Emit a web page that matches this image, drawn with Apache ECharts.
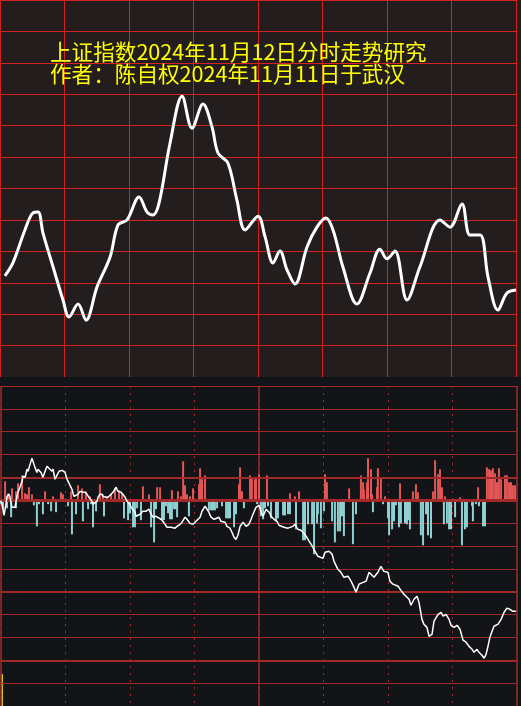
<!DOCTYPE html>
<html>
<head>
<meta charset="utf-8">
<title>上证指数分时走势研究</title>
<script src="https://cdn.jsdelivr.net/npm/echarts@6/dist/echarts.min.js"></script>
<style>
	html, body {
		margin: 0;
		padding: 0;
		background: #131417;
	}
	#myChart {
		width: 521px;
		height: 706px;
	}
</style>
</head>
<body>
<div id="myChart"></div>
<script>
// 标题
const titleLines = ['上证指数2024年11月12日分时走势研究', '作者：陈自权2024年11月11日于武汉'];

// 上图：分时走势（分钟, 格数）
const trendLine = [
	[2.3, 3.22], [6.0, 3.63], [11.6, 4.68], [15.3, 5.22], [17.7, 5.25], [20.0, 4.58], [24.7, 3.50],
	[29.3, 2.45], [32.1, 1.91], [36.3, 2.32], [40.0, 1.81], [45.1, 2.86], [51.2, 3.82], [54.9, 4.84],
	[59.1, 5.00], [64.7, 5.73], [68.4, 5.25], [71.2, 5.16], [74.0, 5.54], [79.1, 7.45], [84.7, 8.94],
	[89.3, 7.92], [94.4, 8.69], [98.6, 7.96], [101.4, 7.13], [106.0, 6.81], [110.2, 5.63], [114.0, 4.68],
	[120.0, 5.12], [123.3, 4.46], [127.0, 3.63], [130.2, 4.01], [133.5, 3.41], [137.2, 2.96], [142.8, 4.14],
	[147.4, 4.77], [151.6, 5.06], [154.9, 4.68], [159.5, 3.50], [166.0, 2.32], [172.1, 3.31], [176.7, 4.07],
	[180.0, 3.76], [183.7, 4.01], [189.3, 2.45], [195.3, 3.50], [204.7, 5.00], [209.3, 4.77], [214.9, 5.51],
	[218.6, 4.52], [223.3, 4.52], [227.0, 3.18], [231.6, 2.13], [235.8, 2.67], [240.0, 2.77]
];

// 下图：实际分时线
const priceLine = [
	[0, -0.03], [0.5, -0.17], [1.4, -0.66], [2.3, -0.17], [2.8, 0.17], [3.7, 0.26], [4.2, 0.13], [5.1, -0.31],
	[6.5, -0.31], [7.4, 0.17], [7.9, 0.35], [8.8, 0.57], [9.8, 0.83], [10.2, 1.05], [11.2, 1.01], [12.1, 1.36],
	[12.6, 1.27], [13.5, 1.57], [14.4, 1.84], [15.3, 1.84], [15.8, 1.44], [16.7, 1.22], [17.2, 1.36], [18.6, 1.22],
	[19.5, 1.01], [20.5, 1.27], [21.4, 1.49], [22.3, 1.40], [23.7, 1.27], [24.2, 1.36], [25.1, 0.92], [26.0, 1.09],
	[27.0, 1.27], [28.4, 1.31], [28.8, 1.36], [29.8, 1.22], [30.7, 0.92], [31.2, 0.83], [32.1, 0.79], [33.0, 0.48],
	[33.5, 0.31], [34.0, 0.17], [34.9, 0.13], [35.8, 0.26], [36.7, 0.39], [38.1, 0.35], [39.1, 0.35], [40.0, 0.26],
	[40.9, 0.13], [42.3, -0.04], [42.8, -0.17], [43.7, -0.09], [44.7, -0.04], [45.1, 0.13], [46.0, 0.26], [47.0, 0.26],
	[47.4, 0.17], [48.8, 0.13], [49.8, 0.13], [50.7, 0.17], [52.1, 0.35], [53.5, 0.57], [54.4, 0.39], [55.8, 0.35],
	[56.7, 0.26], [57.7, 0.13], [58.6, -0.04], [60.0, -0.17], [60.5, -0.31], [62.3, -0.52], [62.8, -0.70], [64.7, -0.61],
	[66.0, -0.48], [67.4, -0.48], [68.8, -0.39], [69.8, -0.61], [70.7, -0.74], [72.1, -0.70], [73.0, -0.74], [74.4, -0.83],
	[75.3, -0.92], [76.3, -1.05], [77.2, -1.18], [79.1, -1.18], [80.9, -1.22], [81.9, -1.14], [83.3, -1.05], [84.2, -0.96],
	[85.6, -0.74], [86.5, -0.83], [87.9, -1.01], [89.3, -1.05], [90.7, -0.92], [92.6, -0.74], [93.5, -0.48], [94.9, -0.26],
	[95.8, -0.31], [96.7, -0.52], [97.7, -0.74], [99.1, -0.83], [100.0, -0.83], [101.4, -0.74], [102.3, -0.92], [104.2, -0.96],
	[105.1, -1.14], [106.5, -1.22], [107.4, -1.40], [108.4, -1.62], [109.3, -1.71], [110.2, -1.53], [111.2, -1.14], [112.6, -0.96],
	[114.0, -1.14], [115.3, -1.05], [116.3, -0.83], [117.2, -0.61], [118.6, -0.31], [120.0, -0.22], [120.9, -0.48], [121.9, -0.70],
	[123.3, -0.39], [124.7, -0.52], [125.6, -0.70], [127.0, -0.83], [128.4, -0.92], [129.3, -1.09], [130.2, -1.14], [131.6, -1.18],
	[133.5, -1.22], [134.4, -1.18], [135.8, -1.14], [136.7, -1.05], [138.1, -1.27], [139.5, -1.31], [140.5, -1.40], [141.9, -1.57],
	[142.8, -1.62], [143.3, -1.79], [144.2, -1.92], [145.1, -2.06], [146.0, -2.23], [147.4, -2.45], [149.8, -2.54], [150.7, -2.27],
	[152.6, -2.23], [154.0, -2.36], [154.9, -2.67], [156.7, -3.02], [158.1, -3.15], [159.5, -3.37], [161.4, -3.32], [162.8, -3.54],
	[164.2, -3.81], [165.1, -4.02], [166.5, -3.67], [168.4, -3.59], [169.8, -3.54], [171.2, -3.15], [172.1, -3.11], [173.5, -3.37],
	[175.3, -3.15], [176.7, -2.89], [178.1, -3.11], [180.0, -3.15], [180.9, -3.54], [182.3, -3.67], [184.7, -3.76], [186.0, -3.94],
	[187.4, -4.11], [189.8, -4.33], [190.7, -4.59], [192.1, -4.33], [193.5, -4.20], [194.4, -4.46], [195.8, -5.21], [196.7, -5.42],
	[198.1, -5.56], [199.1, -5.95], [200.5, -5.86], [201.4, -5.29], [203.3, -4.99], [204.7, -4.90], [205.6, -5.07], [207.0, -4.99],
	[208.4, -5.21], [209.3, -5.47], [210.7, -5.56], [212.1, -5.47], [213.5, -5.64], [214.9, -6.12], [216.3, -6.21], [217.7, -6.39],
	[219.1, -6.52], [220.0, -6.65], [221.4, -6.52], [222.3, -6.65], [223.7, -6.78], [224.7, -6.91], [225.6, -6.74], [226.5, -6.39],
	[227.4, -5.99], [228.4, -5.73], [229.3, -5.51], [231.2, -5.42], [232.6, -5.21], [234.0, -4.90], [235.3, -4.72], [236.7, -4.77],
	[238.1, -4.86], [239.5, -4.86]
];

// 下图：红柱
const redBars = [
	[1.9, 0.83], [3.3, 0.31], [5.1, 0.52], [7.0, 0.39], [7.9, 0.74], [9.8, 1.09], [11.2, 0.31], [12.1, 0.26],
	[13.0, 0.57], [14.4, 0.26], [20.5, 0.39], [24.2, 0.17], [27.9, 0.35], [28.8, 0.26], [32.6, 0.39], [35.8, 0.66],
	[37.7, 0.52], [39.5, 0.39], [41.4, 0.17], [46.0, 0.70], [47.4, 0.26], [49.3, 0.17], [51.2, 0.26], [53.0, 0.52],
	[54.9, 0.44], [56.3, 0.31], [66.0, 0.61], [68.8, 0.26], [72.6, 0.57], [74.0, 0.57], [79.5, 0.44], [82.3, 0.39],
	[83.7, 0.17], [84.7, 1.71], [85.6, 0.66], [86.5, 0.26], [87.9, 0.17], [89.3, 0.52], [92.1, 0.70], [92.6, 1.40],
	[93.5, 0.92], [94.9, 1.09], [110.7, 0.70], [111.2, 1.44], [112.1, 0.39], [115.8, 1.09], [116.7, 1.01], [118.1, 0.92],
	[118.6, 0.96], [120.0, 1.14], [123.7, 1.09], [134.4, 0.31], [136.7, 0.17], [138.6, 0.39], [150.7, 1.14], [151.6, 0.79],
	[161.9, 0.52], [167.4, 1.09], [168.4, 0.79], [168.8, 0.48], [170.2, 0.79], [170.7, 1.84], [172.1, 1.36], [172.6, 0.26],
	[174.9, 0.57], [175.3, 1.40], [176.7, 0.96], [178.6, 0.17], [185.6, 0.74], [191.6, 0.39], [193.0, 0.70], [193.9, 0.35],
	[200.9, 0.39], [201.9, 1.75], [203.3, 1.14], [204.2, 1.36], [205.1, 0.57], [206.5, 0.17], [213.5, 0.13], [221.9, 0.57],
	[226.0, 1.44], [227.0, 1.36], [227.9, 1.31], [228.8, 1.40], [229.8, 1.18], [230.7, 0.79], [231.6, 1.40], [232.6, 0.92],
	[234.4, 1.09], [235.3, 1.09], [236.3, 0.79], [237.2, 0.79], [238.1, 0.66], [239.1, 0.66]
];

// 下图：蓝柱
const cyanBars = [
	[0, -0.17], [0.9, -0.39], [2.8, -0.35], [4.7, -0.74], [7.0, -0.35], [15.3, -0.22], [16.7, -1.14], [17.7, -0.17],
	[19.5, -0.61], [21.9, -0.17], [23.3, -0.48], [25.6, -0.52], [31.2, -0.26], [33.0, -1.49], [34.9, -0.61], [38.1, -0.92],
	[40.5, -0.39], [41.9, -0.17], [42.8, -1.18], [44.2, -0.48], [47.9, -0.70], [57.2, -0.79], [59.1, -0.87], [60.0, -0.57],
	[61.4, -1.18], [62.3, -1.18], [63.3, -0.35], [65.1, -0.87], [69.8, -1.18], [71.2, -1.84], [72.1, -0.39], [74.9, -0.87],
	[75.8, -0.87], [76.7, -0.26], [77.7, -0.57], [78.6, -0.83], [79.5, -0.83], [80.5, -0.39], [81.4, -0.39], [81.9, -0.74],
	[87.4, -0.70], [96.7, -0.44], [97.7, -0.44], [98.6, -0.44], [99.5, -0.44], [100.5, -0.35], [102.8, -0.26], [104.7, -0.79],
	[105.6, -0.79], [106.5, -0.79], [108.4, -1.18], [109.3, -0.61], [113.0, -0.35], [119.1, -0.17], [120.9, -0.70], [121.9, -0.83],
	[122.8, -0.35], [124.2, -0.26], [125.6, -0.79], [127.9, -0.92], [128.8, -0.79], [131.2, -0.66], [132.1, -0.66], [133.5, -0.61],
	[134.4, -0.61], [137.2, -1.27], [140.5, -1.75], [141.4, -1.75], [142.8, -1.05], [144.7, -1.05], [145.6, -2.36], [147.0, -1.01],
	[147.4, -0.61], [148.8, -1.22], [150.2, -0.48], [154.0, -0.92], [155.3, -1.84], [156.7, -1.36], [157.7, -1.36], [158.6, -0.70],
	[159.5, -1.57], [163.7, -1.92], [165.1, -0.61], [173.0, -0.52], [177.7, -0.17], [180.0, -0.79], [180.5, -1.53], [181.9, -1.27],
	[182.8, -0.92], [183.7, -0.22], [185.1, -1.18], [186.0, -1.01], [187.9, -1.01], [188.8, -1.05], [189.3, -0.87], [190.2, -1.27],
	[195.3, -1.53], [196.3, -1.97], [197.7, -0.61], [198.6, -1.53], [200.0, -1.66], [206.0, -1.05], [207.4, -1.01], [208.4, -1.27],
	[209.3, -1.27], [211.2, -0.74], [214.4, -1.97], [215.8, -1.27], [216.7, -1.18], [219.1, -0.26], [219.5, -0.92], [220.9, -0.17],
	[222.3, -0.26], [224.2, -1.14], [225.1, -1.14]
];

// 下图加粗横线
const boldLevels = [1, -4, -7];

const gridRed = '#d82222';
const darkRed = '#a32828';

const myChart = echarts.init(document.getElementById('myChart'));

const option = {
	backgroundColor: '#131417',
	animation: false,
	graphic: [
		{
			type: 'rect',
			z: -10,
			silent: true,
			shape: { x: 0, y: 0, width: 521, height: 377 },
			style: { fill: '#231e1d' }
		},
		{
			// 左下角黄色标记
			type: 'rect',
			silent: true,
			shape: { x: 1, y: 674, width: 2, height: 32 },
			style: { fill: '#d2c21e' }
		}
	],
	title: {
		text: titleLines.join('\n'),
		left: 45,
		top: 36,
		textStyle: {
			color: '#ffff00',
			fontFamily: 'Noto Sans CJK SC',
			fontSize: 21.6,
			fontWeight: 'normal',
			lineHeight: 22
		}
	},
	grid: [
		{ left: 0, top: 0, width: 516, height: 377 },
		{ left: 1, top: 386, width: 516, height: 320 }
	],
	xAxis: [
		{
			type: 'value',
			gridIndex: 0,
			min: 0,
			max: 240,
			interval: 30,
			axisLine: { show: false },
			axisTick: { show: false },
			axisLabel: { show: false },
			splitLine: { show: true, lineStyle: { color: gridRed, width: 1 } }
		},
		{
			type: 'value',
			gridIndex: 1,
			min: 0,
			max: 240,
			interval: 30,
			axisLine: { show: false },
			axisTick: { show: false },
			axisLabel: { show: false },
			splitLine: { show: true, lineStyle: { color: darkRed, width: 1, type: [2, 5] } }
		},
		{
			type: 'value',
			gridIndex: 1,
			min: 0,
			max: 240,
			interval: 120,
			axisLine: { show: false },
			axisTick: { show: false },
			axisLabel: { show: false },
			splitLine: { show: true, lineStyle: { color: darkRed, width: 1.5 } }
		}
	],
	yAxis: [
		{
			type: 'value',
			gridIndex: 0,
			min: 0,
			max: 12,
			interval: 1,
			axisLine: { show: false },
			axisTick: { show: false },
			axisLabel: { show: false },
			splitLine: {
				show: true,
				lineStyle: {
					// 底边不画线
					color: ['rgba(0,0,0,0)', gridRed, gridRed, gridRed, gridRed, gridRed, gridRed,
						gridRed, gridRed, gridRed, gridRed, gridRed, gridRed],
					width: 1
				}
			}
		},
		{
			type: 'value',
			gridIndex: 1,
			min: -9,
			max: 5,
			interval: 1,
			axisLine: { show: false },
			axisTick: { show: false },
			axisLabel: { show: false },
			splitLine: { show: true, lineStyle: { color: darkRed, width: 1 } }
		}
	],
	series: [
		{
			name: '走势',
			type: 'line',
			xAxisIndex: 0,
			yAxisIndex: 0,
			smooth: 0.35,
			symbol: 'none',
			lineStyle: { color: '#ffffff', width: 3 },
			data: trendLine
		},
		{
			name: '红柱',
			type: 'bar',
			xAxisIndex: 1,
			yAxisIndex: 1,
			barWidth: 2,
			barGap: '-100%',
			itemStyle: { color: '#e35656' },
			data: redBars
		},
		{
			name: '蓝柱',
			type: 'bar',
			xAxisIndex: 1,
			yAxisIndex: 1,
			barWidth: 2,
			barGap: '-100%',
			itemStyle: { color: '#8fd0d3' },
			data: cyanBars,
			markLine: {
				silent: true,
				symbol: 'none',
				label: { show: false },
				lineStyle: { color: darkRed, width: 3, type: 'solid' },
				data: [{ yAxis: 0 }]
			}
		},
		{
			name: '分时',
			type: 'line',
			xAxisIndex: 1,
			yAxisIndex: 1,
			symbol: 'none',
			z: 5,
			lineStyle: { color: '#ffffff', width: 1.5 },
			data: priceLine,
			markLine: {
				silent: true,
				symbol: 'none',
				label: { show: false },
				lineStyle: { color: darkRed, width: 2, type: 'solid' },
				data: boldLevels.map(function (v) { return { yAxis: v }; })
			}
		}
	]
};

myChart.setOption(option);
window.addEventListener('resize', function () {
	myChart.resize();
});
</script>
</body>
</html>
